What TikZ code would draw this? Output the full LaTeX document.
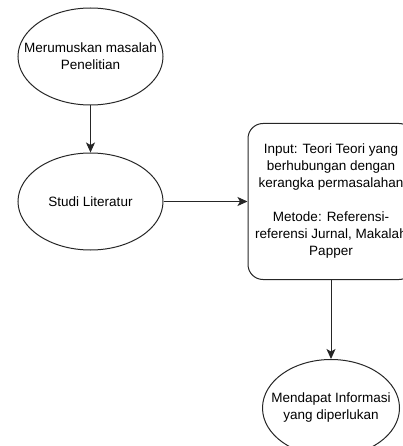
\documentclass[tikz,border=0pt]{standalone}
\usepackage{fontspec}
\setmainfont{Liberation Sans}
\usetikzlibrary{shapes.geometric, arrows.meta, positioning}

\begin{document}
\begin{tikzpicture}[
        font=\fontsize{13.5}{17}\selectfont,
        step_ellipse/.style={
            ellipse,
            draw=black!85,
            line width=1pt,
            minimum width=145pt,
            minimum height=97pt
        },
        ellipse_text/.style={
            align=center,
            inner sep=0pt
        },
        info_box/.style={
            rectangle,
            rounded corners=15pt,
            draw=black!85,
            line width=1pt,
            align=center,
            minimum width=166pt,
            minimum height=156pt
        },
        arrow/.style={
            -{Stealth[length=10pt, width=9pt, inset=2.5pt]},
            draw=black!85,
            line width=1pt
        }
    ]

    \useasboundingbox (0,0) rectangle (403pt,-446pt);

    % Merumuskan masalah
    \node[step_ellipse] (masalah) at (90.5pt,-56.5pt) {};
    \node[ellipse_text] (masalah_txt) at (masalah) {Merumuskan masalah\\Penelitian};

    % Studi literatur
    \node[step_ellipse, below=47pt of masalah] (studi) {};
    \node[ellipse_text] (studi_txt) at (studi) {Studi Literatur};

    % Input dan metode
    \node[info_box, right=84pt of studi] (input) {Input: Teori Teori yang\\berhubungan dengan\\kerangka permasalahan\\[17pt]Metode: Referensi-\\referensi Jurnal, Makalah\\Papper};

    % Hasil
    \node[step_ellipse, minimum width=137pt, below=79pt of input] (hasil) {};
    \node[ellipse_text] (hasil_txt) at (hasil) {Mendapat Informasi\\yang diperlukan};

    % Arrows
    \draw[arrow] (masalah.south) -- (studi.north);
    \draw[arrow] (studi.east) -- (input.west);
    \draw[arrow] (input.south) -- (hasil.north);

\end{tikzpicture}
\end{document}
